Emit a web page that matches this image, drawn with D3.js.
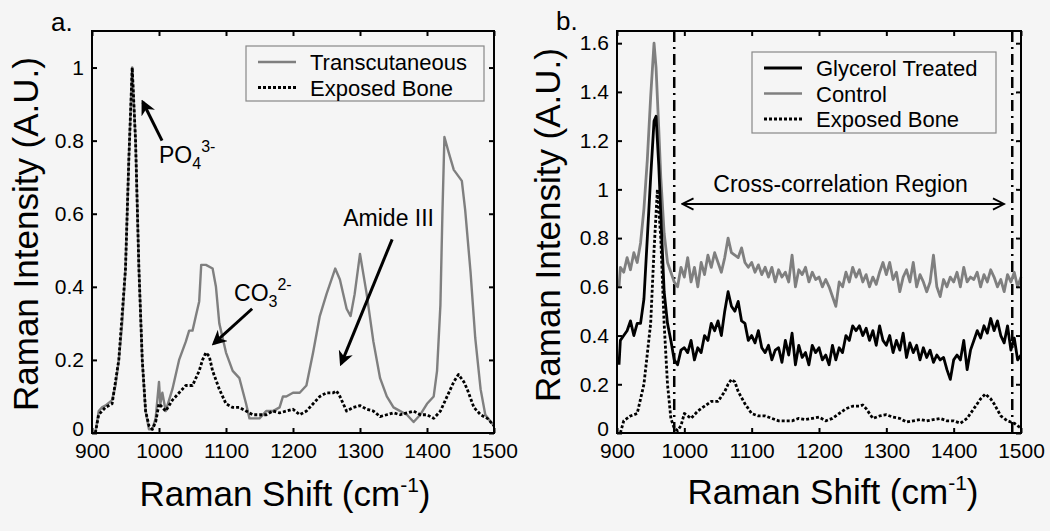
<!DOCTYPE html>
<html>
<head>
<meta charset="utf-8">
<script src="https://cdn.jsdelivr.net/npm/d3@7"></script>
<style>
  body { margin: 0; background: #f5f5f5; }
  svg { display: block; font-family: "Liberation Sans", Arial, sans-serif; }
</style>
</head>
<body>
<svg id="chart" width="1050" height="531"></svg>
<script>
// ---- panel a: Transcutaneous vs Exposed Bone ----
const transShift = [905,910,915,920,930,935,940,945,950,955,960,965,970,975,980,985,990,995,1000,1002,1005,1010,1020,1030,1040,1045,1050,1055,1060,1063,1070,1080,1085,1090,1100,1110,1120,1130,1135,1140,1150,1160,1170,1180,1185,1190,1200,1210,1220,1230,1240,1250,1263,1270,1280,1286,1292,1300,1310,1320,1330,1340,1350,1360,1370,1380,1390,1400,1410,1415,1420,1423,1426,1432,1440,1452,1457,1465,1472,1480,1487,1500];
const transValues = [0,0.06,0.07,0.075,0.09,0.13,0.2,0.3,0.45,0.75,1.0,0.8,0.45,0.2,0.06,0.01,0.01,0.04,0.14,0.08,0.11,0.06,0.12,0.2,0.25,0.28,0.28,0.32,0.36,0.46,0.46,0.45,0.4,0.3,0.22,0.17,0.15,0.08,0.04,0.04,0.04,0.06,0.06,0.07,0.1,0.1,0.11,0.11,0.13,0.22,0.32,0.38,0.45,0.42,0.34,0.32,0.38,0.49,0.38,0.25,0.15,0.1,0.07,0.06,0.05,0.03,0.05,0.08,0.1,0.17,0.35,0.6,0.81,0.77,0.72,0.69,0.61,0.44,0.26,0.12,0.05,0.02];

const boneShift = [905,910,920,930,940,950,955,960,965,970,975,980,985,990,995,1000,1005,1010,1020,1030,1040,1050,1060,1065,1070,1075,1080,1090,1100,1110,1120,1130,1140,1150,1160,1170,1180,1190,1200,1210,1220,1230,1240,1250,1260,1265,1270,1280,1290,1300,1310,1320,1330,1340,1350,1360,1370,1380,1390,1400,1410,1420,1430,1440,1447,1455,1460,1470,1480,1490,1500];
const boneValues = [0,0.05,0.07,0.08,0.2,0.45,0.75,1.0,0.8,0.45,0.2,0.06,0.02,0.01,0.03,0.08,0.07,0.06,0.09,0.11,0.13,0.13,0.17,0.2,0.22,0.21,0.17,0.12,0.08,0.07,0.07,0.06,0.05,0.05,0.05,0.06,0.055,0.06,0.065,0.05,0.06,0.08,0.1,0.11,0.11,0.115,0.1,0.06,0.07,0.075,0.065,0.06,0.045,0.05,0.055,0.05,0.055,0.06,0.05,0.05,0.04,0.06,0.1,0.14,0.16,0.14,0.12,0.07,0.05,0.04,0.02];

// ---- panel b: Glycerol Treated vs Control (+ Exposed Bone) ----
const treatShift = [903,905,910,915,920,925,930,935,940,945,950,955,958,962,965,970,975,980,985,990,995,
  1000,1005,1010,1015,1020,1025,1030,1035,1040,1045,1050,1055,1060,1065,1070,1075,1080,1085,1090,1095,
  1100,1105,1110,1115,1120,1125,1130,1135,1140,1145,1150,1155,1160,1165,1170,1175,1180,1185,1190,1195,
  1200,1205,1210,1215,1220,1225,1230,1235,1240,1245,1250,1255,1260,1265,1270,1275,1280,1285,1290,1295,
  1300,1305,1310,1315,1320,1325,1330,1335,1340,1345,1350,1355,1360,1365,1370,1375,1380,1385,1390,1395,
  1400,1405,1410,1415,1420,1425,1430,1435,1440,1445,1450,1455,1460,1465,1470,1475,1480,1485,1490,1495,1500];
const glycerolValues = [0.28,0.38,0.4,0.42,0.46,0.4,0.45,0.45,0.55,0.8,1.05,1.28,1.3,1.1,0.9,0.58,0.45,0.38,0.3,0.28,0.34,
  0.35,0.33,0.38,0.3,0.35,0.33,0.4,0.38,0.45,0.42,0.46,0.4,0.5,0.58,0.52,0.5,0.54,0.46,0.45,0.38,
  0.4,0.37,0.42,0.35,0.33,0.36,0.3,0.34,0.35,0.29,0.38,0.32,0.41,0.28,0.36,0.31,0.33,0.28,0.36,0.33,
  0.35,0.3,0.32,0.28,0.36,0.3,0.35,0.33,0.4,0.38,0.44,0.42,0.44,0.4,0.43,0.38,0.42,0.36,0.44,0.38,
  0.36,0.4,0.33,0.38,0.34,0.41,0.31,0.37,0.33,0.36,0.3,0.35,0.31,0.34,0.29,0.32,0.3,0.31,0.26,0.22,
  0.3,0.32,0.3,0.38,0.26,0.34,0.38,0.42,0.39,0.44,0.41,0.47,0.42,0.46,0.4,0.37,0.44,0.34,0.39,0.3,0.32];
const controlValues = [0.6,0.68,0.66,0.72,0.67,0.74,0.7,0.78,0.92,1.12,1.38,1.6,1.5,1.25,1.05,0.82,0.7,0.66,0.62,0.6,0.68,
  0.64,0.72,0.62,0.68,0.6,0.7,0.65,0.73,0.68,0.74,0.7,0.66,0.72,0.8,0.74,0.73,0.72,0.76,0.7,0.68,
  0.7,0.66,0.69,0.65,0.68,0.64,0.68,0.62,0.67,0.64,0.66,0.62,0.73,0.6,0.67,0.65,0.68,0.62,0.66,0.63,
  0.64,0.6,0.63,0.6,0.56,0.52,0.62,0.6,0.66,0.62,0.68,0.64,0.67,0.62,0.65,0.6,0.64,0.61,0.66,0.7,
  0.65,0.7,0.63,0.66,0.58,0.64,0.67,0.62,0.7,0.6,0.65,0.62,0.58,0.62,0.73,0.6,0.56,0.63,0.6,0.64,
  0.62,0.66,0.6,0.68,0.62,0.64,0.63,0.66,0.6,0.65,0.62,0.67,0.64,0.6,0.63,0.58,0.65,0.62,0.66,0.6,0.64];

const shiftTicks = [900,1000,1100,1200,1300,1400,1500];
const ticksA = [0,0.2,0.4,0.6,0.8,1];
const ticksB = [0,0.2,0.4,0.6,0.8,1,1.2,1.4,1.6];
const regionBounds = [985, 1487];   // dash-dot lines of the cross-correlation region

const GRAY = "#7f7f7f";
const svg = d3.select("#chart");

// arrow heads
const defs = svg.append("defs");
defs.append("marker")
  .attr("id", "solidHead")
  .attr("viewBox", "0 0 10 10")
  .attr("refX", 8).attr("refY", 5)
  .attr("markerWidth", 5).attr("markerHeight", 5)
  .attr("orient", "auto")
  .append("path")
  .attr("d", "M0,0 L10,5 L0,10 L3,5 z")
  .attr("fill", "#000");
defs.append("marker")
  .attr("id", "openHead")
  .attr("viewBox", "0 0 10 10")
  .attr("refX", 9).attr("refY", 5)
  .attr("markerWidth", 7).attr("markerHeight", 7)
  .attr("orient", "auto-start-reverse")
  .append("path")
  .attr("d", "M1,1 L9,5 L1,9")
  .attr("fill", "none")
  .attr("stroke", "#000")
  .attr("stroke-width", 1.3);

function drawFrame(g, x, y, yTicks)   //box, inward ticks, labels
{
  let [x0, x1] = x.range();
  let [y0, y1] = y.range();
  let fmt = d => String(+d.toFixed(1));

  g.append("g").attr("transform", `translate(0,${y0})`)
    .call(d3.axisBottom(x).tickValues(shiftTicks).tickSize(-5).tickPadding(10).tickFormat(d3.format("d")));
  g.append("g").attr("transform", `translate(0,${y1})`)
    .call(d3.axisTop(x).tickValues(shiftTicks).tickSize(-5).tickFormat(""));
  let left = g.append("g").attr("transform", `translate(${x0},0)`)
    .call(d3.axisLeft(y).tickValues(yTicks).tickSize(-5).tickPadding(8).tickFormat(fmt));
  g.append("g").attr("transform", `translate(${x1},0)`)
    .call(d3.axisRight(y).tickValues(yTicks).tickSize(-5).tickFormat(""));

  g.selectAll(".domain").remove();
  g.selectAll(".tick line").attr("stroke", "#000").attr("stroke-width", 2);
  g.selectAll(".tick text").attr("font-size", 21).attr("font-family", "Liberation Sans, Arial, sans-serif").attr("fill", "#000");
  left.selectAll(".tick text").filter(d => d === 0).attr("dy", "0.1em");   //"0" sits just above the x labels

  g.append("rect")
    .attr("x", x0).attr("y", y1)
    .attr("width", x1 - x0).attr("height", y0 - y1)
    .attr("fill", "none").attr("stroke", "#000").attr("stroke-width", 2);
}

function drawSeries(g, x, y, xs, ys, color, width, dash)
{
  let line = d3.line().x(d => x(d[0])).y(d => y(d[1]));
  g.append("path")
    .datum(d3.zip(xs, ys))
    .attr("d", line)
    .attr("fill", "none")
    .attr("stroke", color)
    .attr("stroke-width", width)
    .attr("stroke-linejoin", "round")
    .attr("stroke-dasharray", dash);
}

function drawLegend(g, box, rows)
{
  g.append("rect")
    .attr("x", box[0]).attr("y", box[1]).attr("width", box[2]).attr("height", box[3])
    .attr("fill", "#f5f5f5").attr("stroke", "#888").attr("stroke-width", 1.2);
  rows.forEach((r, i) => {
    let cy = box[1] + 16 + i * 25.5;
    g.append("line")
      .attr("x1", box[0] + 12).attr("x2", box[0] + 50)
      .attr("y1", cy).attr("y2", cy)
      .attr("stroke", r.color).attr("stroke-width", r.width).attr("stroke-dasharray", r.dash);
    g.append("text")
      .attr("x", box[0] + 64).attr("y", cy + 8)
      .attr("font-size", 22)
      .text(r.label);
  });
}

function axisTitles(g, xc, xBase, yc, yBase)
{
  let xt = g.append("text")
    .attr("x", xc).attr("y", xBase)
    .attr("text-anchor", "middle")
    .attr("font-size", 35);
  xt.append("tspan").text("Raman Shift (cm");
  xt.append("tspan").attr("font-size", 21).attr("dy", -14).text("-1");
  xt.append("tspan").attr("dy", 14).text(")");

  g.append("text")
    .attr("transform", `translate(${yBase},${yc}) rotate(-90)`)
    .attr("text-anchor", "middle")
    .attr("font-size", 35)
    .text("Raman Intensity (A.U.)");
}

function chemLabel(g, px, py, base, sub, sup)   //e.g. PO4 3-
{
  let t = g.append("text").attr("x", px).attr("y", py).attr("font-size", 23);
  t.append("tspan").text(base);
  t.append("tspan").attr("font-size", 16).attr("dy", 6).text(sub);
  t.append("tspan").attr("font-size", 16).attr("dy", -17).text(sup);
}

function arrow(g, x, y, from, to)
{
  g.append("line")
    .attr("x1", x(from[0])).attr("y1", y(from[1]))
    .attr("x2", x(to[0])).attr("y2", y(to[1]))
    .attr("stroke", "#000").attr("stroke-width", 3)
    .attr("marker-end", "url(#solidHead)");
}

// ================= panel a =================
let xA = d3.scaleLinear().domain([900, 1500]).range([92, 494]);
let yA = d3.scaleLinear().domain([0, 1.1]).range([433, 31]);
let gA = svg.append("g");

drawSeries(gA, xA, yA, transShift, transValues, GRAY, 2.4, null);
drawSeries(gA, xA, yA, boneShift, boneValues, "#000", 2.8, "3,2");

arrow(gA, xA, yA, [1004.5, 0.80], [976, 0.905]);
chemLabel(gA, xA(1000), yA(0.74), "PO", "4", "3-");
arrow(gA, xA, yA, [1139, 0.34], [1082, 0.245]);
chemLabel(gA, xA(1112), yA(0.36), "CO", "3", "2-");
arrow(gA, xA, yA, [1348, 0.53], [1272, 0.19]);
gA.append("text").attr("x", xA(1275)).attr("y", yA(0.566)).attr("font-size", 23).text("Amide III");

drawLegend(gA, [246, 46, 238, 55], [
  {label: "Transcutaneous", color: GRAY, width: 2.4, dash: null},
  {label: "Exposed Bone", color: "#000", width: 2.8, dash: "3,2"}
]);
drawFrame(gA, xA, yA, ticksA);
axisTitles(gA, 285, 506, 234, 38);
gA.append("text").attr("x", 51).attr("y", 31).attr("font-size", 26).text("a.");

// ================= panel b =================
let xB = d3.scaleLinear().domain([900, 1500]).range([617, 1021]);
let yB = d3.scaleLinear().domain([0, 1.65]).range([433, 31]);
let gB = svg.append("g");

regionBounds.forEach(v => {
  gB.append("line")
    .attr("x1", xB(v)).attr("x2", xB(v))
    .attr("y1", yB(0)).attr("y2", yB(1.65))
    .attr("stroke", "#000").attr("stroke-width", 2.5)
    .attr("stroke-dasharray", "11,5,2,5");
});

drawSeries(gB, xB, yB, treatShift, controlValues, GRAY, 2.8, null);
drawSeries(gB, xB, yB, treatShift, glycerolValues, "#000", 2.8, null);
drawSeries(gB, xB, yB, boneShift, boneValues, "#000", 2.8, "3,2");

gB.append("line")
  .attr("x1", xB(997)).attr("x2", xB(1475))
  .attr("y1", yB(0.94)).attr("y2", yB(0.94))
  .attr("stroke", "#000").attr("stroke-width", 2)
  .attr("marker-start", "url(#openHead)")
  .attr("marker-end", "url(#openHead)");
gB.append("text")
  .attr("x", xB(1232)).attr("y", yB(0.99))
  .attr("text-anchor", "middle").attr("font-size", 23)
  .text("Cross-correlation Region");

drawLegend(gB, [752, 52, 244, 81], [
  {label: "Glycerol Treated", color: "#000", width: 2.8, dash: null},
  {label: "Control", color: GRAY, width: 2.4, dash: null},
  {label: "Exposed Bone", color: "#000", width: 2.8, dash: "3,2"}
]);
drawFrame(gB, xB, yB, ticksB);
axisTitles(gB, 833, 504, 225, 560);
gB.append("text").attr("x", 556).attr("y", 30).attr("font-size", 26).text("b.");
</script>
</body>
</html>
